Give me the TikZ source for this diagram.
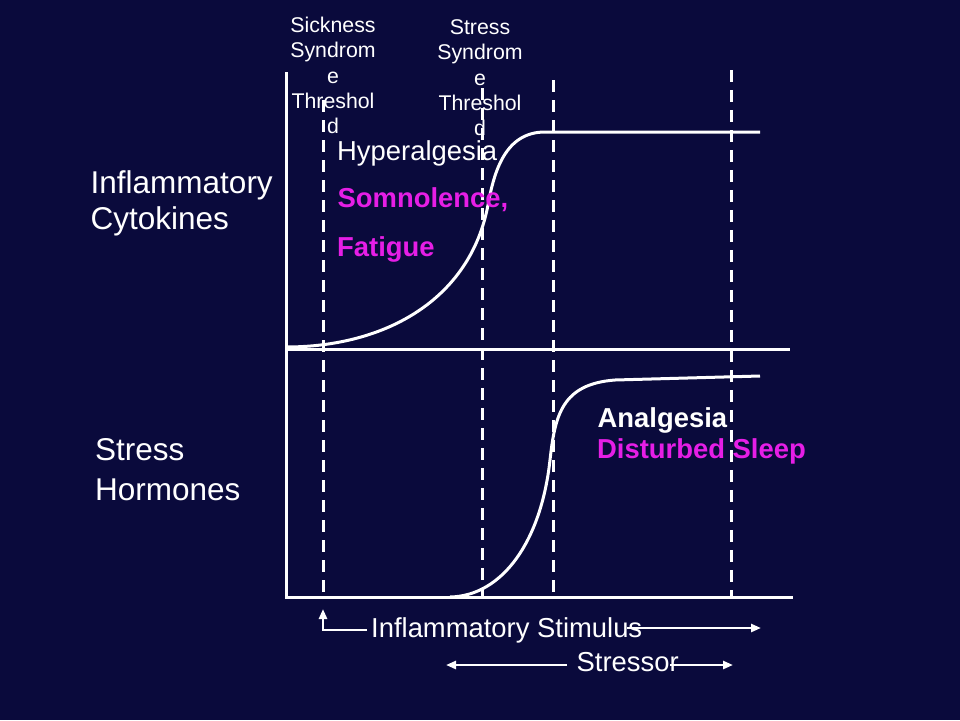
\documentclass[tikz,border=0pt]{standalone}
\usepackage{fontspec}
\setmainfont{Liberation Sans}
\usetikzlibrary{arrows.meta}
\definecolor{bgnavy}{RGB}{10,10,60}
\definecolor{mag}{RGB}{230,30,230}
\begin{document}
\begin{tikzpicture}[x=1pt,y=-1pt,
  axis/.style={white,line width=3pt},
  curve/.style={white,line width=3pt},
  thresh/.style={white,line width=3pt,dash pattern=on 12pt off 8pt},
  arr/.style={white,line width=2.5pt,-{Triangle[length=10pt,width=8pt]}},
  big/.style={text=white,inner sep=0pt,anchor=base west,font=\fontsize{31.5}{36}\selectfont},
  mid/.style={inner sep=0pt,anchor=base west,font=\fontsize{27.4}{32}\selectfont},
  small/.style={text=white,inner sep=0pt,anchor=base,font=\fontsize{21.3}{25}\selectfont}]
\fill[bgnavy] (0,0) rectangle (960,720);
\useasboundingbox (0,0) rectangle (960,720);

% axes
\coordinate (ytop) at (286,72);
\coordinate (origin) at (286,597);
\coordinate (xend) at (793,597);
\coordinate (mid0) at (286,349);
\coordinate (midend) at (790,349);
\draw[axis] (ytop) -- (origin) -- (xend);
\draw[axis] (mid0) -- (midend);

% threshold dashed lines
\coordinate (d1t) at (323,100); \coordinate (d1b) at (323,597);
\coordinate (d2t) at (482,88);  \coordinate (d2b) at (482,597);
\coordinate (d3t) at (553,80);  \coordinate (d3b) at (553,597);
\coordinate (d4t) at (731,70);  \coordinate (d4b) at (731,597);
\draw[thresh] (d1t) -- (d1b);
\draw[thresh] (d2t) -- (d2b);
\draw[thresh] (d3t) -- (d3b);
\draw[thresh] (d4t) -- (d4b);

% cytokine curve
\draw[curve] (286,347) .. controls (385,347) and (470,300) .. (488,205)
  .. controls (494,172) and (505,132) .. (545,132) -- (760,132);
% stress hormone curve
\draw[curve] (450,597) .. controls (502,596) and (541,542) .. (550,460)
  .. controls (555,415) and (562,384) .. (615,380) -- (760,376);

% left labels
\node[big] (infl) at (90.5,193) {Inflammatory};
\node[big] (cyto) at (90.5,229) {Cytokines};
\node[big] (stre) at (95,460) {Stress};
\node[big] (horm) at (95,500) {Hormones};

% threshold labels
\node[small] (sa1) at (333,32) {Sickness};
\node[small] (sa2) at (333,57) {Syndrom};
\node[small] (sa3) at (333,83) {e};
\node[small] (sa4) at (333,108) {Threshol};
\node[small] (sa5) at (333,133) {d};
\node[small] (sb1) at (480,34) {Stress};
\node[small] (sb2) at (480,59) {Syndrom};
\node[small] (sb3) at (480,85) {e};
\node[small] (sb4) at (480,110) {Threshol};
\node[small] (sb5) at (480,135) {d};

% effect labels
\node[mid,text=white] (hyp) at (337,160) {Hyperalgesia};
\node[mid,text=mag] (som) at (337.5,207) {\bfseries Somnolence,};
\node[mid,text=mag] (fat) at (337,256) {\bfseries Fatigue};
\node[mid,text=white] (ana) at (597.5,427) {\bfseries Analgesia};
\node[mid,text=mag] (dis) at (597,458) {\bfseries Disturbed Sleep};

% stimulus labels
\node[mid,text=white] (stim) at (371,637) {Inflammatory Stimulus};
\node[mid,text=white] (sor) at (576.5,671) {Stressor};

% arrows
\coordinate (lcorner) at (323,630);
\coordinate (lup) at (323,609);
\coordinate (lright) at (367,630);
\draw[arr] (lright) -- (lcorner) -- (lup);
\coordinate (sa) at (627,628);
\coordinate (sb) at (761,628);
\draw[arr] (sa) -- (sb);
\coordinate (ra) at (567,665);
\coordinate (rb) at (446,665);
\draw[arr] (ra) -- (rb);
\coordinate (rc) at (670,665);
\coordinate (rd) at (733,665);
\draw[arr] (rc) -- (rd);
\end{tikzpicture}
\end{document}
